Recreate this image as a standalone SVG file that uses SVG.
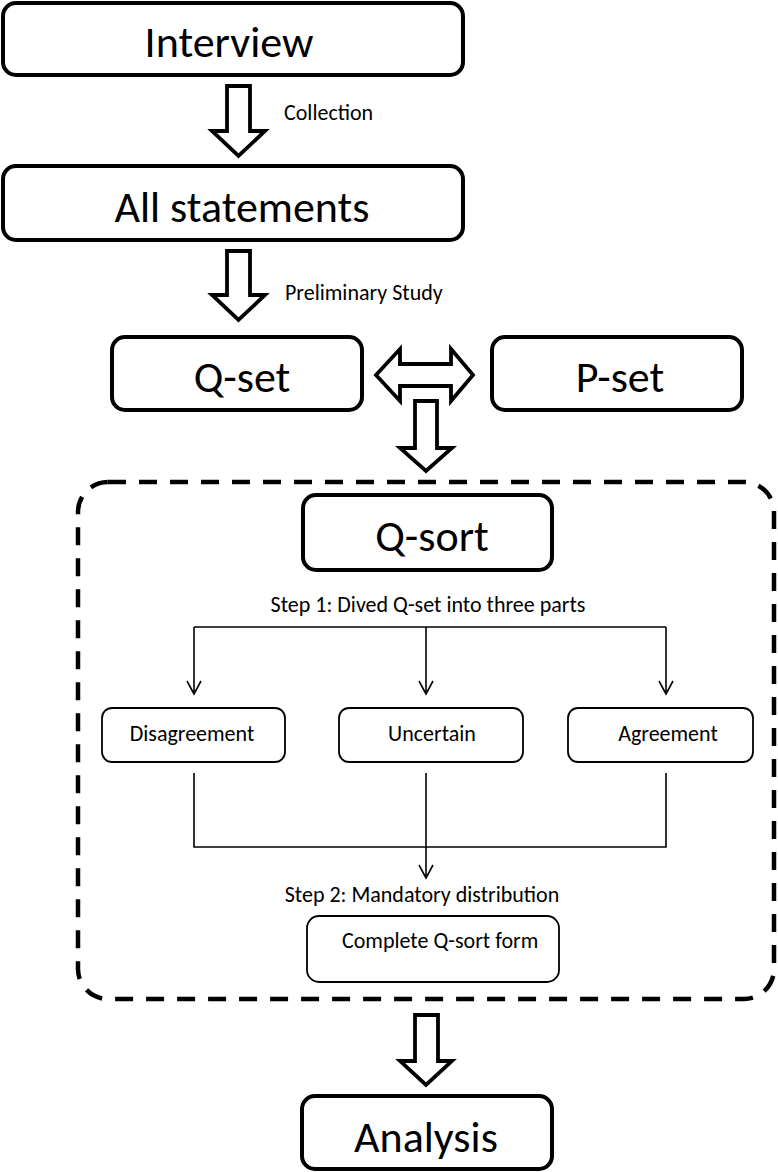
<svg xmlns="http://www.w3.org/2000/svg" width="778" height="1172" viewBox="0 0 778 1172">
<style>
text{font-family:Carlito,Calibri,Lato,"Liberation Sans",sans-serif;fill:#000}
.big{font-size:44px;text-anchor:middle}
.sm{font-size:22px}
.mid{text-anchor:middle}
.bbox{fill:#fff;stroke:#000;stroke-width:4}
.sbox{fill:#fff;stroke:#000;stroke-width:1.8}
.blk{fill:#fff;stroke:#000;stroke-width:3.8;stroke-linejoin:miter}
.thin{fill:none;stroke:#000;stroke-width:1.6}
.dash{fill:none;stroke:#000;stroke-width:4.5;stroke-dasharray:18 13}
</style>
<defs>
<marker id="v" viewBox="0 0 16 16" refX="14" refY="8" markerWidth="16" markerHeight="16" markerUnits="userSpaceOnUse" orient="auto">
<path d="M1,1 L14,8 L1,15" fill="none" stroke="#000" stroke-width="1.6"/>
</marker>
</defs>
<g id="group-qsort">
<rect class="dash" x="78" y="482" width="696" height="517" rx="30"/>
</g>
<g id="connectors">
<path class="blk" d="M227,86 H250 V131 H265 L238.5,156 L212,131 H227 Z"/>
<path class="blk" d="M227,251 H250 V295 H265 L238.5,320 L212,295 H227 Z"/>
<path class="blk" d="M376,375 L400,349 V364 H451 V349 L473,375 L451,401 V386 H400 V401 Z"/>
<path class="blk" d="M415,401 H437 V448 H452 L426,471 L400,448 H415 Z"/>
<path class="blk" d="M415,1015 H438 V1061 H452 L426,1085 L400,1061 H415 Z"/>
<path class="thin" d="M194,627 H666"/>
<path class="thin" d="M194,627 V694" marker-end="url(#v)"/>
<path class="thin" d="M666,627 V694" marker-end="url(#v)"/>
<path class="thin" d="M426,627 V694" marker-end="url(#v)"/>
<path class="thin" d="M194,773 V847 H666 V773"/>
<path class="thin" d="M426,773 V878" marker-end="url(#v)"/>
<text class="sm" x="284" y="120">Collection</text>
<text class="sm" x="285" y="300">Preliminary Study</text>
<text class="sm mid" x="428" y="612">Step 1: Dived Q-set into three parts</text>
<text class="sm mid" x="422" y="902">Step 2: Mandatory distribution</text>
</g>
<g id="interview">
<rect class="bbox" x="3" y="3" width="460" height="72" rx="13"/>
<text class="big" x="229" y="57">Interview</text>
</g>
<g id="all-statements">
<rect class="bbox" x="3" y="166" width="460" height="74" rx="13"/>
<text class="big" x="242" y="222">All statements</text>
</g>
<g id="q-set">
<rect class="bbox" x="112" y="337" width="250" height="73" rx="13"/>
<text class="big" x="242" y="392">Q-set</text>
</g>
<g id="p-set">
<rect class="bbox" x="492" y="337" width="250" height="73" rx="13"/>
<text class="big" x="620" y="392">P-set</text>
</g>
<g id="q-sort">
<rect class="bbox" x="303" y="495" width="249" height="75" rx="13"/>
<text class="big" x="432" y="551">Q-sort</text>
</g>
<g id="disagreement">
<rect class="sbox" x="102" y="708" width="183" height="54" rx="10"/>
<text class="sm mid" x="192" y="741">Disagreement</text>
</g>
<g id="uncertain">
<rect class="sbox" x="339" y="708" width="184" height="54" rx="10"/>
<text class="sm mid" x="432" y="741">Uncertain</text>
</g>
<g id="agreement">
<rect class="sbox" x="568" y="708" width="185" height="54" rx="10"/>
<text class="sm mid" x="668" y="741">Agreement</text>
</g>
<g id="complete-form">
<rect class="sbox" x="307" y="916" width="252" height="66" rx="12"/>
<text class="sm" x="342" y="948">Complete Q-sort form</text>
</g>
<g id="analysis">
<rect class="bbox" x="302" y="1096" width="250" height="73" rx="13"/>
<text class="big" x="426" y="1152">Analysis</text>
</g>
</svg>
